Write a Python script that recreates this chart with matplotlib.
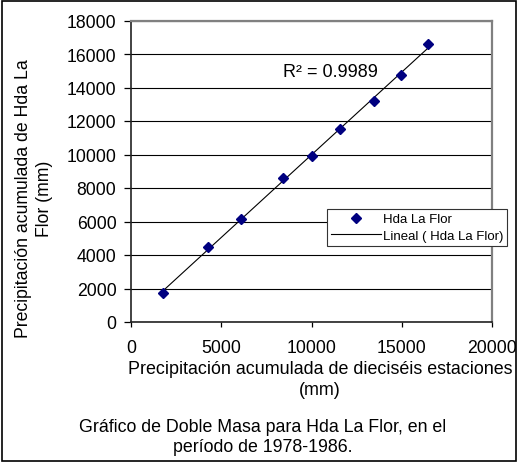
import numpy as np
import matplotlib.pyplot as plt
from matplotlib.patches import Rectangle

plt.rcParams['font.family'] = ['Liberation Sans', 'DejaVu Sans']

x_acum = [1800, 4250, 6100, 8400, 10050, 11600, 13450, 14950, 16450]
y_flor = [1750, 4480, 6150, 8600, 9900, 11500, 13200, 14750, 16600]
serie = "Hda La Flor"
r2_text = "R² = 0.9989"

W, H = 519, 464
fig = plt.figure(figsize=(W/100, H/100), dpi=100)
ax = fig.add_axes([131/W, 1-323/H, 361/W, 301.5/H])

# linea de tendencia
m, b = np.polyfit(x_acum, y_flor, 1)
xl = np.array([x_acum[0], x_acum[-1]])
ax.plot(x_acum, y_flor, 'D', color='#000080', markersize=5, label=serie, zorder=3)
ax.plot(xl, m*xl + b, color='black', linewidth=0.8, label="Lineal ( Hda La Flor)", zorder=2)

ax.set_xlim(0, 20000)
ax.set_ylim(0, 18000)
ax.set_xticks(range(0, 20001, 5000))
ax.set_yticks(range(0, 18001, 2000))
ax.yaxis.grid(True, color='black', linewidth=0.8)
ax.set_axisbelow(True)
for s in ['top', 'right']:
    ax.spines[s].set_color('#808080')
    ax.spines[s].set_linewidth(1.6)
for s in ['left', 'bottom']:
    ax.spines[s].set_color('#222222')
    ax.spines[s].set_linewidth(1.2)
ax.tick_params(axis='y', direction='out', length=5, width=0.9, labelsize=12.7, pad=5.5)
ax.tick_params(axis='x', direction='out', length=3.6, width=0.9, labelsize=12.7, pad=8.5)

ax.text(0.422, 0.832, r2_text, transform=ax.transAxes, fontsize=13, va='center')

fig.text(320/W, 1-380/H, "Precipitación acumulada de dieciséis estaciones\n(mm)",
         ha='center', va='center', fontsize=12.9, linespacing=1.3)
fig.text(34/W, 1-198.5/H, "Precipitación acumulada de Hda La\nFlor (mm)",
         ha='center', va='center', rotation=90, fontsize=12.7, linespacing=1.25)

leg = ax.legend(loc='upper left', bbox_to_anchor=(327/W, 1-210/H), bbox_transform=fig.transFigure,
                fontsize=9.5, frameon=True, fancybox=False, edgecolor='#333333', framealpha=1,
                borderpad=0.3, handlelength=3.8, handletextpad=0.15, labelspacing=0.35,
                borderaxespad=0)
leg.get_frame().set_linewidth(0.8)

fig.text(263/W, 1-437.5/H, "Gráfico de Doble Masa para Hda La Flor, en el\nperíodo de 1978-1986.",
         ha='center', va='center', fontsize=12.8, linespacing=1.2)

fig.patches.append(Rectangle((2/W, 2/H), 514/W, 460/H, transform=fig.transFigure,
                             fill=False, edgecolor='black', linewidth=1.2))

fig.savefig("out.png", dpi=100)
